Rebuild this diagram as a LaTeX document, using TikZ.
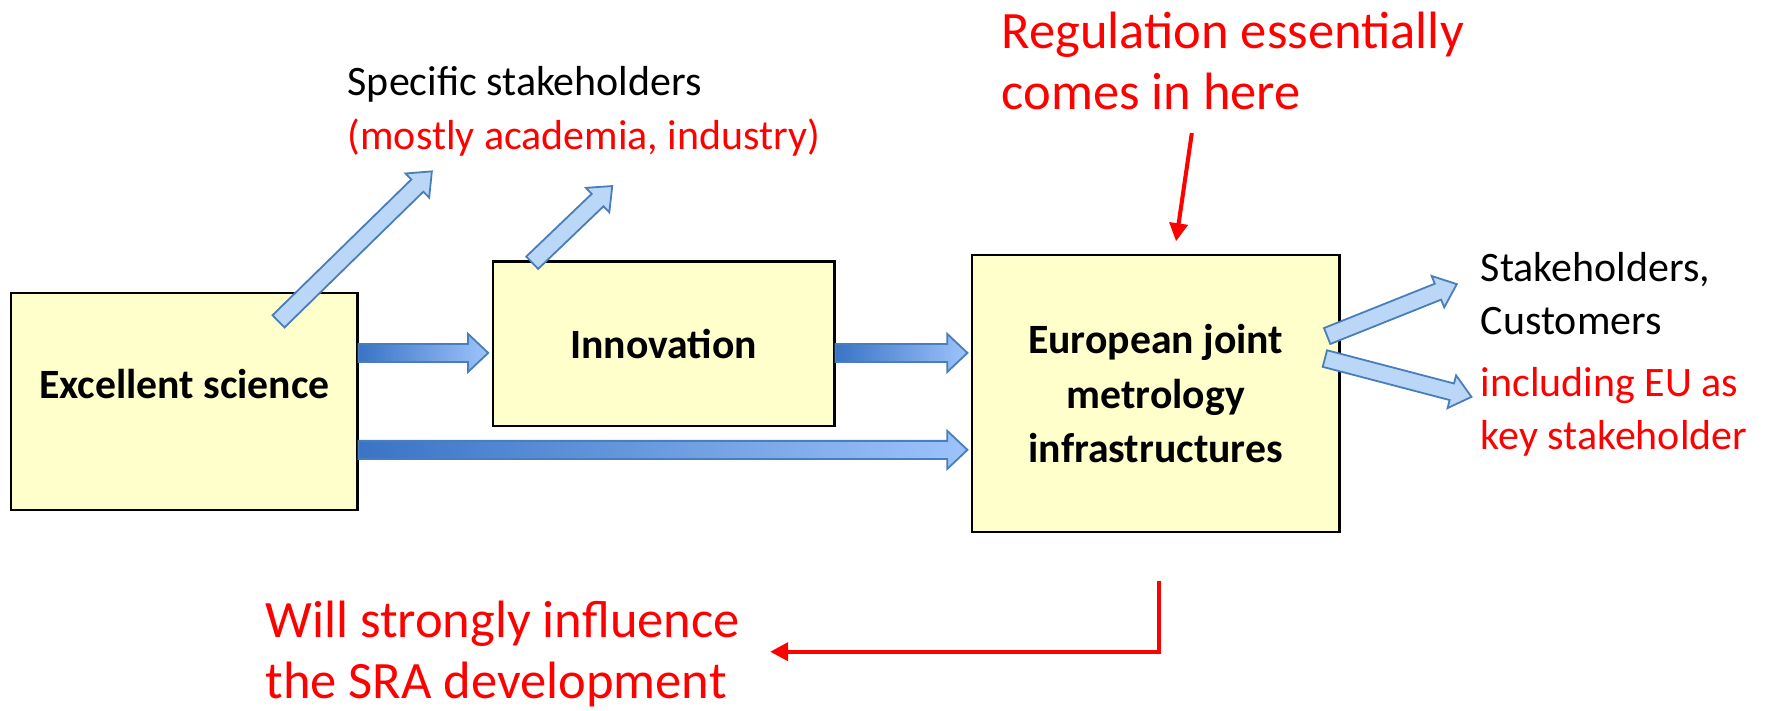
\documentclass[tikz,border=0pt]{standalone}
\usepackage{fontspec}
\setmainfont{Carlito}
\usetikzlibrary{calc,arrows.meta}
\definecolor{boxfill}{HTML}{FFFFCC}
\definecolor{darkblue}{HTML}{3A74C6}
\definecolor{lightgrad}{HTML}{9DC3FA}
\definecolor{arrline}{HTML}{4A7EBB}
\definecolor{lightarr}{HTML}{BBD7F8}
\definecolor{myred}{HTML}{FF0000}
% #1 style, #2 from, #3 to, #4 shaft half width, #5 head half width, #6 head length
\newcommand\blockarrow[6]{%
  \coordinate (ba-q) at ($(#3)!#6!(#2)$);
  \path[#1] ($(#2)!#4!90:(#3)$) -- ($(ba-q)!#4!-90:(#2)$) -- ($(ba-q)!#5!-90:(#2)$)
    -- (#3) -- ($(ba-q)!#5!90:(#2)$) -- ($(ba-q)!#4!90:(#2)$) -- ($(#2)!#4!-90:(#3)$) -- cycle;
}
\begin{document}
\begin{tikzpicture}[x=0.5pt,y=-0.5pt,
  box/.style={draw=black, line width=1pt, fill=boxfill, inner sep=0pt,
    font=\fontsize{18.5}{24}\selectfont\bfseries, align=center},
  gradarrow/.style={draw=arrline, line width=0.8pt, left color=darkblue, right color=lightgrad},
  lightarrow/.style={draw=arrline, line width=0.8pt, fill=lightarr},
  lbl/.style={font=\fontsize{18.6}{23.5}\selectfont, align=left, inner sep=0pt, anchor=west},
  redlbl/.style={lbl, text=myred},
  biglbl/.style={font=\fontsize{23.3}{27}\selectfont, align=left, inner sep=0pt, anchor=west, text=myred},
  redarrow/.style={draw=myred, line width=1.8pt, -{Triangle[length=8pt,width=8pt]}}]
\useasboundingbox (0,0) rectangle (1568,630.5);

% boxes
\node[box, minimum width=153.5pt, minimum height=96pt] (sci) at (163.5,356) {\raisebox{16pt}{Excellent science}};
\node[box, minimum width=151.5pt, minimum height=73pt] (inno) at (588.5,305) {\raisebox{-5pt}{Innovation}};
\node[box, minimum width=163pt, minimum height=123pt] (euro) at (1025,349) {European joint\\metrology\\infrastructures};

% texts
\node[lbl] (spec) at (308,75) {Specific stakeholders};
\node[redlbl] (acad) at (308,122) {(mostly academia, industry)};
\node[biglbl] (reg) at (888,54) {Regulation essentially\\comes in here};
\node[lbl] (cust) at (1313,260) {Stakeholders,\\Customers};
\node[redlbl] (eu) at (1313,365) {including EU as\\key stakeholder};
\node[biglbl] (sra) at (235,580) {Will strongly influence\\the SRA development};

% gradient block arrows
\coordinate (a1s) at (sci.east |- 0,313);
\coordinate (a1e) at (433,313);
\coordinate (a2s) at (inno.east |- 0,313);
\coordinate (a2e) at (858,313);
\coordinate (a3s) at (sci.east |- 0,399);
\coordinate (a3e) at (858,399);
\blockarrow{gradarrow}{a1s}{a1e}{4pt}{8.5pt}{9pt}
\blockarrow{gradarrow}{a2s}{a2e}{4pt}{8.5pt}{9pt}
\blockarrow{gradarrow}{a3s}{a3e}{4pt}{8.5pt}{9pt}

% light diagonal arrows
\coordinate (d1s) at (247,285);
\coordinate (d1e) at (383,152);
\coordinate (d2s) at (472,233);
\coordinate (d2e) at (543,165);
\coordinate (r1s) at (1177,298);
\coordinate (r1e) at (1292,252);
\coordinate (r2s) at (1175,318);
\coordinate (r2e) at (1305,352);
\blockarrow{lightarrow}{d1s}{d1e}{3.8pt}{7.5pt}{9pt}
\blockarrow{lightarrow}{d2s}{d2e}{3.8pt}{7.5pt}{9pt}
\blockarrow{lightarrow}{r1s}{r1e}{3.8pt}{7.5pt}{9pt}
\blockarrow{lightarrow}{r2s}{r2e}{3.8pt}{7.5pt}{9pt}

% red arrows
\coordinate (regs) at (1057,118);
\coordinate (rege) at (1043,214);
\draw[redarrow] (regs) -- (rege);
\coordinate (els) at (1028,515);
\coordinate (elc) at (1028,578);
\coordinate (ele) at (683,578);
\draw[redarrow] (els) -- (elc) -- (ele);
\end{tikzpicture}
\end{document}
